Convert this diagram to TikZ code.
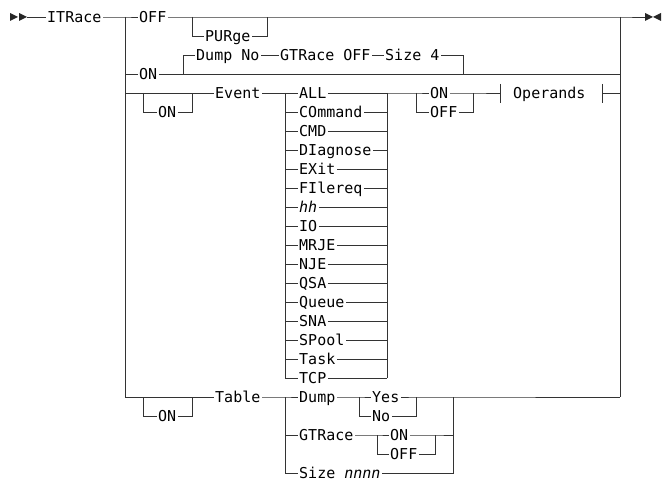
\documentclass[tikz,border=0pt]{standalone}
\usepackage{fontspec}
\newfontfamily\rrfont{DejaVu Sans Mono}
\usetikzlibrary{positioning, calc}

\begin{document}
\begin{tikzpicture}[x=1pt, y=-1pt,
  rail/.style={draw=black!80, line width=0.9pt},
  kw/.style={anchor=west, font=\rrfont\fontsize{15pt}{15pt}\selectfont, inner xsep=1.5pt, inner ysep=0pt, text height=11pt, text depth=0pt},
  tip/.style={fill=black!85, draw=none}]
  \useasboundingbox (0,0) rectangle (662,481);

  % rails and joints
  \coordinate (go) at (27,17);
  \coordinate (lr) at (125,17);
  \coordinate (rr) at (620,17);
  \coordinate (lrb) at (125,397);
  \coordinate (rrb) at (620,397);
  \coordinate (fin) at (645,17);
  \coordinate (pl) at (192,17);
  \coordinate (pr) at (267,17);
  \coordinate (dl) at (183,74);
  \coordinate (dr) at (463,74);
  \coordinate (ol) at (143,93);
  \coordinate (or) at (192,93);
  \coordinate (evL) at (285,93);
  \coordinate (evR) at (387,93);
  \coordinate (opL) at (416,93);
  \coordinate (opR) at (473,93);
  \coordinate (barL) at (500,93);
  \coordinate (barR) at (602,93);
  \coordinate (tol) at (143,397);
  \coordinate (tor) at (192,397);
  \coordinate (tL) at (285,397);
  \coordinate (tR) at (453,397);
  \coordinate (ynL) at (359,397);
  \coordinate (ynR) at (416,397);
  \coordinate (gL) at (377,435);
  \coordinate (gR) at (435,435);

  % keywords
  \node[kw] (itrace) at (45.5,17) {ITRace};
  \node[kw] (off) at (137.5,17) {OFF};
  \node[kw] (purge) at (203.5,36) {PURge};
  \node[kw] (dumpno) at (194.5,55) {Dump No};
  \node[kw] (gtoff) at (278.5,55) {GTRace OFF};
  \node[kw] (size4) at (383.5,55) {Size 4};
  \node[kw] (on) at (137.5,74) {ON};
  \node[kw] (event) at (213.5,93) {Event};
  \node[kw] (evon) at (156.5,112) {ON};
  \node[kw] (opon) at (428.5,93) {ON};
  \node[kw] (opoff) at (428.5,112) {OFF};
  \node[kw] (operands) at (511.5,93) {Operands};
  \node[kw] (table) at (213.5,397) {Table};
  \node[kw] (tbon) at (156.5,416) {ON};
  \node[kw] (tdump) at (297.5,397) {Dump};
  \node[kw] (tyes) at (370.5,397) {Yes};
  \node[kw] (tno) at (370.5,416) {No};
  \node[kw] (tgt) at (297.5,435) {GTRace};
  \node[kw] (tgon) at (388.5,435) {ON};
  \node[kw] (tgoff) at (388.5,454) {OFF};
  \node[kw] (tsize) at (297.5,473) {Size \textit{nnnn}};

  % start and end marks
  \fill[tip] (10,13) -- (18,17) -- (10,21) -- cycle;
  \fill[tip] (19,13) -- (27,17) -- (19,21) -- cycle;
  \fill[tip] (645,13) -- (653,17) -- (645,21) -- cycle;
  \fill[tip] (661,13) -- (653,17) -- (661,21) -- cycle;

  % main line
  \draw[rail] (go) -- (itrace.west);
  \draw[rail] (itrace.east) -- (lr) -- (off.west);
  \draw[rail] (off.east) -- (rr) -- (fin);
  \draw[rail] (lr) -- (lrb);
  \draw[rail] (rr) -- (rrb);
  \draw[rail] (pl) |- (purge.west);
  \draw[rail] (purge.east) -| (pr);

  % ON with defaults
  \draw[rail] (lr |- on.west) -- (on.west);
  \draw[rail] (on.east) -- (on.east -| rr);
  \draw[rail] (dl) |- (dumpno.west);
  \draw[rail] (dumpno.east) -- (gtoff.west);
  \draw[rail] (gtoff.east) -- (size4.west);
  \draw[rail] (size4.east) -| (dr);

  % Event
  \draw[rail] (lr |- event.west) -- (event.west);
  \draw[rail] (ol) |- (evon.west);
  \draw[rail] (evon.east) -| (or);
  \draw[rail] (event.east) -- (evL);
  \foreach \lab [count=\i from 0] in {ALL, COmmand, CMD, DIagnose, EXit, FIlereq, {\textit{hh}}, IO, MRJE, NJE, QSA, Queue, SNA, SPool, Task, TCP}{
    \node[kw] (ev\i) at (297.5, {93+19*\i}) {\lab};
    \draw[rail] (ev\i.west -| evL) -- (ev\i.west);
    \draw[rail] (ev\i.east) -- (ev\i.east -| evR);
  }
  \draw[rail] (evL) -- (ev15.west -| evL);
  \draw[rail] (evR) -- (ev15.east -| evR);
  \draw[rail] (evR) -- (opL) -- (opon.west);
  \draw[rail] (opon.east) -- (opR) -- (barL);
  \draw[rail] (opL) |- (opoff.west);
  \draw[rail] (opoff.east) -| (opR);
  \draw[rail] ($(barL)+(0,-9)$) -- ($(barL)+(0,10)$);
  \draw[rail] ($(barR)+(0,-9)$) -- ($(barR)+(0,10)$);
  \draw[rail] (barR) -- (barR -| rr);

  % Table
  \draw[rail] (lrb) -- (table.west);
  \draw[rail] (tol) |- (tbon.west);
  \draw[rail] (tbon.east) -| (tor);
  \draw[rail] (table.east) -- (tL) -- (tdump.west);
  \draw[rail] (tdump.east) -- (ynL) -- (tyes.west);
  \draw[rail] (tyes.east) -- (ynR) -- (tR) -- (rrb);
  \draw[rail] (ynL) |- (tno.west);
  \draw[rail] (tno.east) -| (ynR);
  \draw[rail] (tL) |- (tgt.west);
  \draw[rail] (tgt.east) -- (gL) -- (tgon.west);
  \draw[rail] (tgon.east) -- (gR) -- (gR -| tR);
  \draw[rail] (gL) |- (tgoff.west);
  \draw[rail] (tgoff.east) -| (gR);
  \draw[rail] (tL) |- (tsize.west);
  \draw[rail] (tsize.east) -| (tR);
\end{tikzpicture}
\end{document}
